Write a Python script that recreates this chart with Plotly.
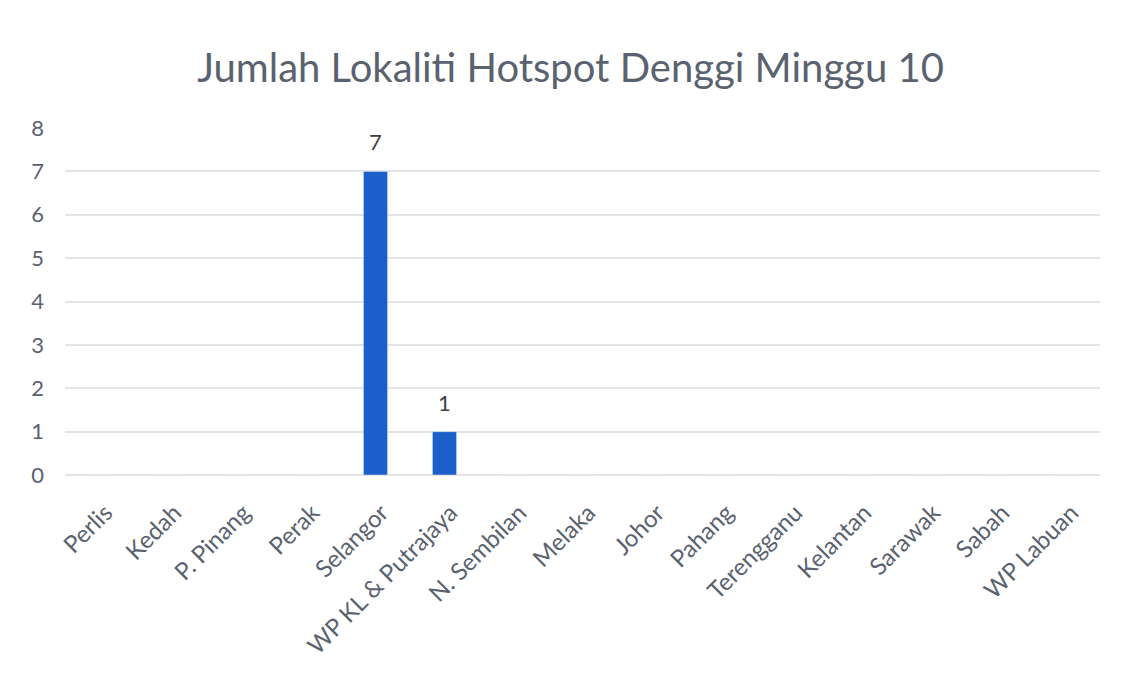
import plotly.graph_objects as go

categories = ["Perlis", "Kedah", "P. Pinang", "Perak", "Selangor", "WP KL & Putrajaya",
              "N. Sembilan", "Melaka", "Johor", "Pahang", "Terengganu", "Kelantan",
              "Sarawak", "Sabah", "WP Labuan"]
values = [0, 0, 0, 0, 7, 1, 0, 0, 0, 0, 0, 0, 0, 0, 0]
title = "Jumlah Lokaliti Hotspot Denggi Minggu 10"

fig = go.Figure(go.Bar(x=categories, y=values, marker_color="#1c5fcb"))

for c, v in zip(categories, values):
    if v > 0:
        fig.add_annotation(x=c, y=v, text=str(v), showarrow=False,
                           yanchor="bottom", yshift=14,
                           font=dict(size=22, color="#404040"))

fig.update_layout(
    width=1125, height=685,
    margin=dict(l=57, r=33, t=120, b=218),
    paper_bgcolor="white", plot_bgcolor="white",
    font=dict(family="Lato, Open Sans, sans-serif", color="#5a6270"),
    title=dict(text=title, x=0.5, xanchor="center", y=0.912, yanchor="middle",
               font=dict(size=40, color="#5a6270")),
    bargap=0.65,
    showlegend=False,
)
fig.update_xaxes(tickangle=-45, tickfont=dict(size=24, color="#5a6270"),
                 showline=False, showgrid=False, ticks="", ticklabelstandoff=18,
                 ticklabelshift=6, automargin=False)
fig.update_yaxes(range=[0, 8], dtick=1, tickfont=dict(size=22, color="#5a6270"),
                 showgrid=True, gridcolor="#e4e4e4", gridwidth=1.5,
                 zeroline=True, zerolinecolor="#e4e4e4", zerolinewidth=1.5,
                 ticks="", ticklabelstandoff=20, automargin=False)

fig.write_html("out.html")
